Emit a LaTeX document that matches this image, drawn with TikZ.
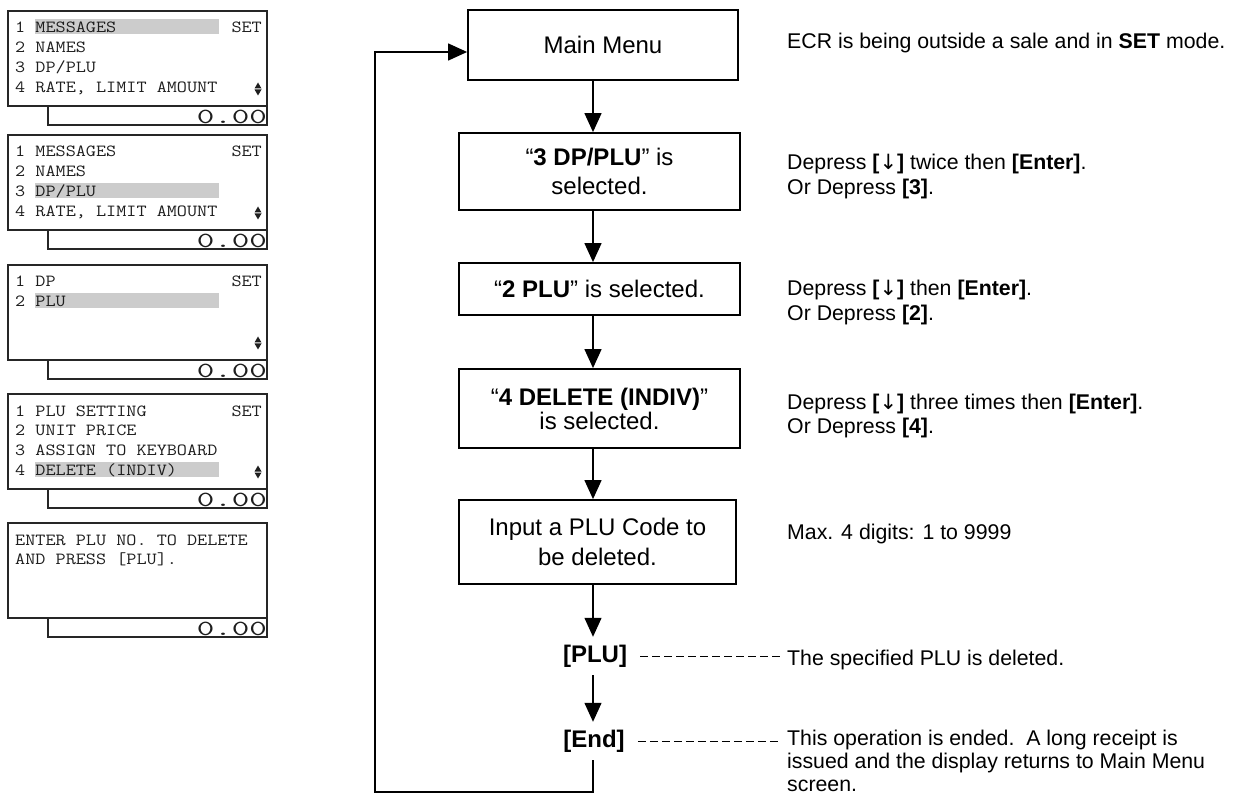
\documentclass[tikz,border=0pt]{standalone}
\usepackage{fontspec}
\usepackage{graphicx}
\setmainfont{Liberation Sans}
\newfontfamily\arrowfont{DejaVu Sans}
\usetikzlibrary{arrows.meta}
\definecolor{hl}{RGB}{204,204,204}
\definecolor{lcdtext}{RGB}{30,30,30}
\newcommand\dn{\textbf{[}{\arrowfont\mdseries\fontsize{21}{21}\selectfont ↓}\textbf{]}}
\tikzset{
  box/.style={draw, line width=1.8pt, align=center, inner sep=0pt, font=\fontsize{24}{29}\selectfont},
  flow/.style={line width=1.3pt, -{Triangle[length=19pt,width=17pt]}},
  note/.style={anchor=base west, inner sep=0pt, font=\fontsize{21.3}{24.5}\selectfont},
  keynode/.style={inner sep=0pt, minimum height=38pt, font=\bfseries\fontsize{24}{28}\selectfont},
  dashline/.style={line width=1pt, dash pattern=on 8pt off 4pt},
  lcdrowst/.style={anchor=base west, inner sep=0pt, text=lcdtext, font=\ttfamily\addfontfeature{FakeBold=0.8}\fontsize{17}{18}\selectfont},
  lcdnum/.style={anchor=base east, inner sep=0pt, text=lcdtext, font=\ttfamily\fontsize{21.5}{22}\selectfont},
  lcdframe/.style={draw=black!85, line width=1.4pt},
}
\newcommand\lcdbox[2]{% id, top
  \draw[lcdframe] (8,#2) rectangle (267,{#2+95});
  \draw[lcdframe] (48,{#2+95}) |- (267,{#2+114}) -- (267,{#2+95});
  \node[lcdnum] (#1num) at (267,{#2+112.5}) {\scalebox{1.58}[1]{0.00}};
}
\newcommand\lcdhl[2]{% top, row
  \fill[hl] (35,{#1+22+19.7*(#2-1)-13.5}) rectangle (219,{#1+22+19.7*(#2-1)+1.5});
}
\newcommand\lcdline[4]{% name, top, row, text
  \node[lcdrowst] (#1) at (15,{#2+22+19.7*(#3-1)}) {\scalebox{1.155}[1]{#4}};
}
\newcommand\lcdset[2]{% name, top
  \node[lcdrowst] (#1) at (231.3,{#2+22}) {\scalebox{1.155}[1]{SET}};
}
\newcommand\lcdud[1]{% top
  \fill[lcdtext] (254.5,{#1+77.5}) -- (261.5,{#1+77.5}) -- (258,{#1+71.5}) -- cycle;
  \fill[lcdtext] (254.5,{#1+78.5}) -- (261.5,{#1+78.5}) -- (258,{#1+84.5}) -- cycle;
}
\begin{document}
\begin{tikzpicture}[x=1pt,y=-1pt]
\useasboundingbox (0,0) rectangle (1240,794);

% ---------- LCD displays ----------
% display 1
\lcdhl{11}{1}
\lcdbox{da}{11}
\lcdline{dar1}{11}{1}{1 MESSAGES}
\lcdset{daset}{11}
\lcdline{dar2}{11}{2}{2 NAMES}
\lcdline{dar3}{11}{3}{3 DP/PLU}
\lcdline{dar4}{11}{4}{4 RATE, LIMIT AMOUNT}
\lcdud{11}
% display 2
\lcdhl{135}{3}
\lcdbox{db}{135}
\lcdline{dbr1}{135}{1}{1 MESSAGES}
\lcdset{dbset}{135}
\lcdline{dbr2}{135}{2}{2 NAMES}
\lcdline{dbr3}{135}{3}{3 DP/PLU}
\lcdline{dbr4}{135}{4}{4 RATE, LIMIT AMOUNT}
\lcdud{135}
% display 3
\lcdhl{265}{2}
\lcdbox{dc}{265}
\lcdline{dcr1}{265}{1}{1 DP}
\lcdset{dcset}{265}
\lcdline{dcr2}{265}{2}{2 PLU}
\lcdud{265}
% display 4
\lcdhl{394}{4}
\lcdbox{dd}{394}
\lcdline{ddr1}{394}{1}{1 PLU SETTING}
\lcdset{ddset}{394}
\lcdline{ddr2}{394}{2}{2 UNIT PRICE}
\lcdline{ddr3}{394}{3}{3 ASSIGN TO KEYBOARD}
\lcdline{ddr4}{394}{4}{4 DELETE (INDIV)}
\lcdud{394}
% display 5
\lcdbox{de}{523}
\lcdline{der1}{523}{1}{ENTER PLU NO. TO DELETE}
\lcdline{der2}{523}{2}{AND PRESS [PLU].}

% ---------- flowchart ----------
\coordinate (ax) at (593,0);
\node[box, minimum width=270pt, minimum height=70pt] (mm) at (603,45) {Main Menu};
\node[box, minimum width=281pt, minimum height=77pt] (b2) at (599.5,171.5) {“\textbf{3 DP/PLU}” is\\selected.};
\node[box, minimum width=281pt, minimum height=52pt] (b3) at (599.5,289) {“\textbf{2 PLU}” is selected.};
\node[box, minimum width=281pt, minimum height=79pt, font=\fontsize{24}{24}\selectfont] (b4) at (599.5,408.5) {“\textbf{4 DELETE (INDIV)}”\\is selected.};
\node[box, minimum width=277pt, minimum height=84pt, font=\fontsize{24}{30}\selectfont] (b5) at (597.5,542) {Input a PLU Code to\\be deleted.};
\node[keynode] (plu) at (595,656) {[PLU]};
\node[keynode] (endk) at (594,741) {[End]};

\draw[flow] (mm.south -| ax) -- (b2.north -| ax);
\draw[flow] (b2.south -| ax) -- (b3.north -| ax);
\draw[flow] (b3.south -| ax) -- (b4.north -| ax);
\draw[flow] (b4.south -| ax) -- (b5.north -| ax);
\draw[flow] (b5.south -| ax) -- (plu.north -| ax);
\draw[flow] (plu.south -| ax) -- (endk.north -| ax);
\coordinate (rb) at (593,792);
\coordinate (rl) at (375,52);
\draw[flow] (endk.south -| ax) -- (rb) -| (rl) -- (mm.west |- rl);

% ---------- notes ----------
\node[note] (n1) at (787,49) {ECR is being outside a sale and in \textbf{SET} mode.};
\node[note] (n2a) at (787,170) {Depress \dn{} twice then \textbf{[Enter]}.};
\node[note] (n2b) at (787,195) {Or Depress \textbf{[3]}.};
\node[note] (n3a) at (787,296) {Depress \dn{} then \textbf{[Enter]}.};
\node[note] (n3b) at (787,321) {Or Depress \textbf{[2]}.};
\node[note] (n4a) at (787,409) {Depress \dn{} three times then \textbf{[Enter]}.};
\node[note] (n4b) at (787,433.5) {Or Depress \textbf{[4]}.};
\node[note] (n5) at (787,539) {Max. 4 digits: 1 to 9999};
\node[note] (n6) at (787,665) {The specified PLU is deleted.};
\node[note] (n7a) at (787,745) {This operation is ended.\ \ A long receipt is};
\node[note] (n7b) at (787,768) {issued and the display returns to Main Menu};
\node[note] (n7c) at (787,791) {screen.};

\draw[dashline] ([xshift=13pt]plu.east) -- ([xshift=-5pt]plu -| n6.west);
\draw[dashline] ([xshift=13pt]endk.east) -- ([xshift=-9pt]endk -| n7a.west);
\end{tikzpicture}
\end{document}
